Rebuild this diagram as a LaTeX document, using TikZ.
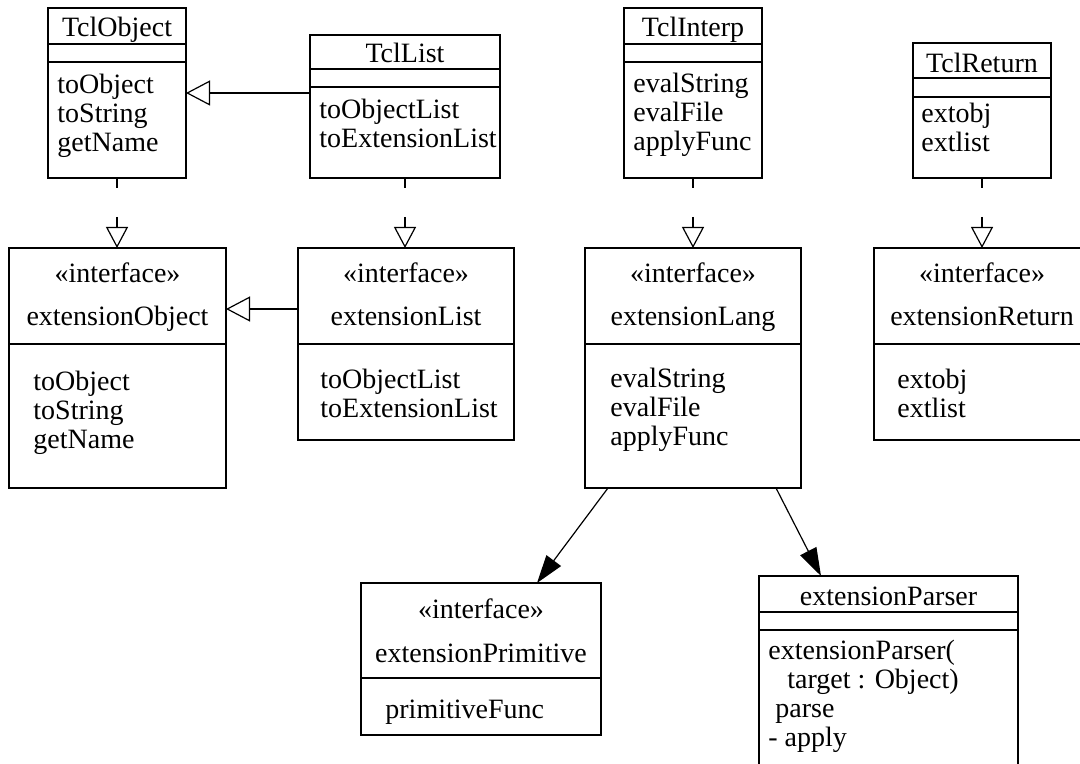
\documentclass[tikz,border=0pt]{standalone}
\usepackage{fontspec}
\setmainfont{Liberation Serif}
\usepackage{tikz}
\usetikzlibrary{arrows.meta, positioning}

\newcommand{\mlist}[1]{\begin{tabular}[t]{@{}l@{}}#1\end{tabular}}

\begin{document}
\begin{tikzpicture}[x=0.5pt, y=-0.5pt,
	font=\fontsize{14pt}{14.5pt}\selectfont,
	classbox/.style={draw, line width=1pt, rectangle, anchor=north west, inner sep=0pt, outer sep=0pt},
	divider/.style={line width=1pt},
	ctitle/.style={anchor=base, inner sep=0pt},
	member/.style={anchor=base west, inner sep=0pt},
	realize/.style={-{Triangle[open, length=10.5pt, width=11pt, line width=0.6pt]}, line width=1pt, dash pattern=on 5pt off 14.5pt},
	inherit/.style={-{Triangle[open, length=12pt, width=12.5pt, line width=0.6pt]}, line width=1pt},
	depend/.style={-{Triangle[length=14pt, width=9pt]}, line width=0.6pt}]
	\useasboundingbox (0,0) rectangle (1080,764);
	\clip (0,0) rectangle (1080,764);

	% implementation classes
	\node[classbox, minimum width=69pt, minimum height=85pt] (TclObject) at (48,8) {};
	\draw[divider] ([shift={(0,36)}]TclObject.north west) -- ([shift={(0,36)}]TclObject.north east);
	\draw[divider] ([shift={(0,54)}]TclObject.north west) -- ([shift={(0,54)}]TclObject.north east);
	\node[ctitle] (TclObject-t) at ([shift={(0,29)}]TclObject.north) {TclObject};
	\node[member] (TclObject-m) at ([shift={(9,86)}]TclObject.north west) {\mlist{toObject\\toString\\getName}};

	\node[classbox, minimum width=95pt, minimum height=71.5pt] (TclList) at (310,35) {};
	\draw[divider] ([shift={(0,34)}]TclList.north west) -- ([shift={(0,34)}]TclList.north east);
	\draw[divider] ([shift={(0,52)}]TclList.north west) -- ([shift={(0,52)}]TclList.north east);
	\node[ctitle] (TclList-t) at ([shift={(0,28)}]TclList.north) {TclList};
	\node[member] (TclList-m) at ([shift={(9,84)}]TclList.north west) {\mlist{toObjectList\\toExtensionList}};

	\node[classbox, minimum width=69pt, minimum height=85pt] (TclInterp) at (624,8) {};
	\draw[divider] ([shift={(0,36)}]TclInterp.north west) -- ([shift={(0,36)}]TclInterp.north east);
	\draw[divider] ([shift={(0,54)}]TclInterp.north west) -- ([shift={(0,54)}]TclInterp.north east);
	\node[ctitle] (TclInterp-t) at ([shift={(0,29)}]TclInterp.north) {TclInterp};
	\node[member] (TclInterp-m) at ([shift={(9,85)}]TclInterp.north west) {\mlist{evalString\\evalFile\\applyFunc}};

	\node[classbox, minimum width=69pt, minimum height=67.5pt] (TclReturn) at (913,43) {};
	\draw[divider] ([shift={(0,35)}]TclReturn.north west) -- ([shift={(0,35)}]TclReturn.north east);
	\draw[divider] ([shift={(0,54)}]TclReturn.north west) -- ([shift={(0,54)}]TclReturn.north east);
	\node[ctitle] (TclReturn-t) at ([shift={(0,30)}]TclReturn.north) {TclReturn};
	\node[member] (TclReturn-m) at ([shift={(8,80)}]TclReturn.north west) {\mlist{extobj\\extlist}};

	% interfaces
	\node[classbox, minimum width=108.5pt, minimum height=120pt] (extensionObject) at (9,248) {};
	\draw[divider] ([shift={(0,96)}]extensionObject.north west) -- ([shift={(0,96)}]extensionObject.north east);
	\node[ctitle] (extensionObject-s) at ([shift={(0,35)}]extensionObject.north) {«interface»};
	\node[ctitle] (extensionObject-t) at ([shift={(0,78)}]extensionObject.north) {extensionObject};
	\node[member] (extensionObject-m) at ([shift={(24,142)}]extensionObject.north west) {\mlist{toObject\\toString\\getName}};

	\node[classbox, minimum width=108pt, minimum height=96pt] (extensionList) at (298,248) {};
	\draw[divider] ([shift={(0,96)}]extensionList.north west) -- ([shift={(0,96)}]extensionList.north east);
	\node[ctitle] (extensionList-s) at ([shift={(0,35)}]extensionList.north) {«interface»};
	\node[ctitle] (extensionList-t) at ([shift={(0,78)}]extensionList.north) {extensionList};
	\node[member] (extensionList-m) at ([shift={(22,140)}]extensionList.north west) {\mlist{toObjectList\\toExtensionList}};

	\node[classbox, minimum width=108pt, minimum height=120pt] (extensionLang) at (585,248) {};
	\draw[divider] ([shift={(0,96)}]extensionLang.north west) -- ([shift={(0,96)}]extensionLang.north east);
	\node[ctitle] (extensionLang-s) at ([shift={(0,35)}]extensionLang.north) {«interface»};
	\node[ctitle] (extensionLang-t) at ([shift={(0,78)}]extensionLang.north) {extensionLang};
	\node[member] (extensionLang-m) at ([shift={(25,139)}]extensionLang.north west) {\mlist{evalString\\evalFile\\applyFunc}};

	\node[classbox, minimum width=108pt, minimum height=96pt] (extensionReturn) at (874,248) {};
	\draw[divider] ([shift={(0,96)}]extensionReturn.north west) -- ([shift={(0,96)}]extensionReturn.north east);
	\node[ctitle] (extensionReturn-s) at ([shift={(0,35)}]extensionReturn.north) {«interface»};
	\node[ctitle] (extensionReturn-t) at ([shift={(0,78)}]extensionReturn.north) {extensionReturn};
	\node[member] (extensionReturn-m) at ([shift={(23,140)}]extensionReturn.north west) {\mlist{extobj\\extlist}};

	\node[classbox, minimum width=120pt, minimum height=76pt] (extensionPrimitive) at (361,583) {};
	\draw[divider] ([shift={(0,95)}]extensionPrimitive.north west) -- ([shift={(0,95)}]extensionPrimitive.north east);
	\node[ctitle] (extensionPrimitive-s) at ([shift={(0,35)}]extensionPrimitive.north) {«interface»};
	\node[ctitle] (extensionPrimitive-t) at ([shift={(0,79)}]extensionPrimitive.north) {extensionPrimitive};
	\node[member] (extensionPrimitive-m) at ([shift={(24,135)}]extensionPrimitive.north west) {\mlist{primitiveFunc}};

	\node[classbox, minimum width=129.5pt, minimum height=100pt] (extensionParser) at (759,576) {};
	\draw[divider] ([shift={(0,36)}]extensionParser.north west) -- ([shift={(0,36)}]extensionParser.north east);
	\draw[divider] ([shift={(0,54)}]extensionParser.north west) -- ([shift={(0,54)}]extensionParser.north east);
	\node[ctitle] (extensionParser-t) at ([shift={(0,29)}]extensionParser.north) {extensionParser};
	\node[member] (extensionParser-m) at ([shift={(9,83)}]extensionParser.north west)
		{\mlist{extensionParser(\\\hspace{9.5pt}target : Object)\\\hspace{3.5pt}parse\\- apply}};

	% generalizations
	\draw[inherit] (TclList.west |- TclObject.east) -- (TclObject.east);
	\coordinate (gen2) at ([yshift=17.5pt]extensionList.west);
	\draw[inherit] (gen2) -- (gen2 -| extensionObject.east);

	% realizations
	\draw[realize] (TclObject.south) -- (TclObject.south |- extensionObject.north);
	\draw[realize] (TclList.south) -- (TclList.south |- extensionList.north);
	\draw[realize] (TclInterp.south) -- (TclInterp.south |- extensionLang.north);
	\draw[realize] (TclReturn.south) -- (TclReturn.south |- extensionReturn.north);

	% dependencies
	\draw[depend] ([xshift=-42.5pt]extensionLang.south) -- ([xshift=28pt]extensionPrimitive.north);
	\draw[depend] ([xshift=41.5pt]extensionLang.south) -- ([xshift=-33.75pt]extensionParser.north);
\end{tikzpicture}
\end{document}
